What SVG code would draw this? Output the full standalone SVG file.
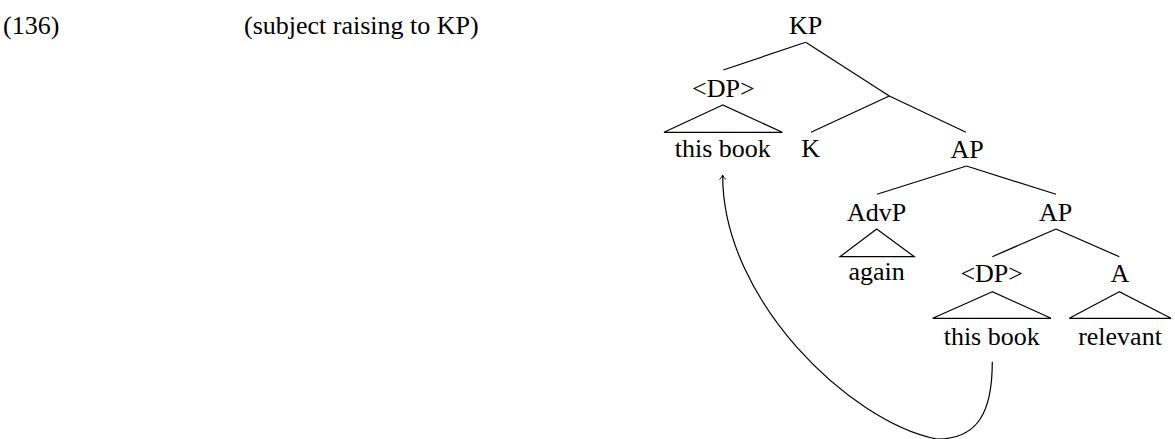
<svg xmlns="http://www.w3.org/2000/svg" width="1175" height="439" viewBox="0 0 1175 439">
<rect width="1175" height="439" fill="#fff"/>
<g font-family="Liberation Serif" font-size="26">
<text x="3" y="34.3">(136)</text>
<text x="244" y="34.3">(subject raising to KP)</text>
</g>
<g id="connectors" stroke="#000" stroke-width="1.2" fill="none">
<line x1="805.7" y1="42.3" x2="723.3" y2="70"/>
<line x1="805.7" y1="42.3" x2="889.3" y2="96"/>
<line x1="889.3" y1="96" x2="811" y2="132.3"/>
<line x1="889.3" y1="96" x2="966" y2="132.3"/>
<line x1="966.5" y1="166" x2="877" y2="194.3"/>
<line x1="966.5" y1="166" x2="1056" y2="194.3"/>
<line x1="1056" y1="229" x2="992.3" y2="256.7"/>
<line x1="1056" y1="229" x2="1119.3" y2="256.7"/>
<path d="M992.3 361.7 C992.3 412 978 439 937 439 C850 422 722.7 300 722.7 176"/>
<path d="M719.5 179.5 Q721.8 177.5 722.7 175 Q723.6 177.5 725.9 179.5" stroke-width="1"/>
</g>
<g font-family="Liberation Serif" font-size="26" text-anchor="middle">
<g id="n-kp"><text x="805.7" y="34.3">KP</text></g>
<g id="n-dp1"><text x="723.3" y="96.7">&lt;DP&gt;</text>
<polygon points="722.7,105 664,132.3 782.3,132.3" fill="none" stroke="#000" stroke-width="1.2"/>
<text x="722.8" y="157.3">this book</text></g>
<g id="n-k"><text x="810.7" y="157.3">K</text></g>
<g id="n-ap1"><text x="967" y="157.7">AP</text></g>
<g id="n-advp"><text x="876.5" y="220.7">AdvP</text>
<polygon points="876.7,229 840,256.7 914.3,256.7" fill="none" stroke="#000" stroke-width="1.2"/>
<text x="876.7" y="280">again</text></g>
<g id="n-ap2"><text x="1055.5" y="220.7">AP</text></g>
<g id="n-dp2"><text x="991.7" y="281.7">&lt;DP&gt;</text>
<polygon points="992.3,291.7 932.7,318.3 1051,318.3" fill="none" stroke="#000" stroke-width="1.2"/>
<text x="991.7" y="344.5">this book</text></g>
<g id="n-a"><text x="1120" y="281.7">A</text>
<polygon points="1119.3,291.7 1069.3,318.3 1171,318.3" fill="none" stroke="#000" stroke-width="1.2"/>
<text x="1120" y="344.5">relevant</text></g>
</g>
</svg>
